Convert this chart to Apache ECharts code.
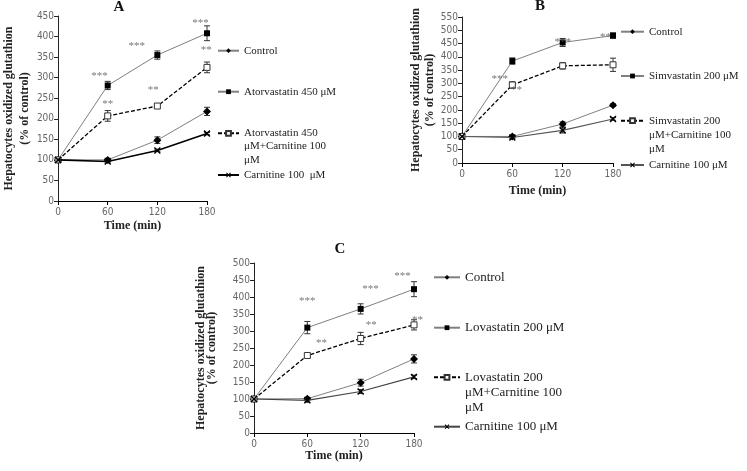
<!DOCTYPE html>
<html><head><meta charset="utf-8">
<script src="https://cdn.jsdelivr.net/npm/echarts@6/dist/echarts.min.js"></script>
<style>html,body{margin:0;padding:0;background:#fff}#c{width:747px;height:471px}</style>
</head><body><div id="c"></div>
<script>
// ---------- data ----------
const times = [0, 60, 120, 180];
const panelTitles = ['A', 'B', 'C'];
const yMaxes = [450, 550, 500];
const xTitle = 'Time (min)';
const yTitle = 'Hepatocytes oxidized glutathion\n(% of control)';

// Panel A
const A_names = ['Control', 'Atorvastatin 450 μM', 'Atorvastatin 450\nμM+Carnitine 100\nμM', 'Carnitine 100  μM'];
const A_control = [100, 100, 148, 218];
const A_statin = [100, 281, 355, 408];
const A_combo = [100, 207, 231, 325];
const A_carn = [100, 96, 123, 164];
const A_controlErr = [2, 4, 8, 10];
const A_statinErr = [3, 10, 10, 18];
const A_comboErr = [3, 13, 5, 13];
const A_carnErr = [2, 3, 3, 3];
const A_stars = [['***', 50, 311], ['***', 95, 384], ['***', 172, 440], ['**', 60, 244], ['**', 115, 277], ['**', 179, 374]];

// Panel B
const B_names = ['Control', 'Simvastatin 200 μM', 'Simvastatin 200\nμM+Carnitine 100\nμM', 'Carnitine 100 μM'];
const B_control = [100, 100, 147, 218];
const B_statin = [100, 384, 454, 480];
const B_combo = [100, 294, 366, 370];
const B_carn = [100, 96, 123, 166];
const B_controlErr = [2, 4, 8, 5];
const B_statinErr = [3, 12, 15, 10];
const B_comboErr = [3, 12, 12, 25];
const B_carnErr = [2, 4, 10, 5];
const B_stars = [['***', 45, 328], ['**', 65, 285], ['***', 120, 467], ['**', 171, 487]];

// Panel C
const C_names = ['Control', 'Lovastatin 200 μM', 'Lovastatin 200\nμM+Carnitine 100\nμM', 'Carnitine 100 μM'];
const C_control = [100, 101, 148, 218];
const C_statin = [100, 310, 365, 423];
const C_combo = [100, 228, 278, 318];
const C_carn = [100, 96, 122, 165];
const C_controlErr = [2, 4, 10, 12];
const C_statinErr = [3, 18, 15, 22];
const C_comboErr = [3, 5, 18, 15];
const C_carnErr = [3, 5, 6, 5];
const C_stars = [['***', 60, 398], ['***', 131, 431], ['***', 167, 469], ['**', 76, 272], ['**', 132, 326], ['**', 184, 341]];

// ---------- layout / style ----------
const panels = [
  {names: A_names, vals: [A_control, A_statin, A_combo, A_carn], errs: [A_controlErr, A_statinErr, A_comboErr, A_carnErr], stars: A_stars,
   grid: {left: 49, top: 16, width: 158, height: 185}, titlePos: [119, 0], yGap: 18, yLH: 16, xGap: 19,
   leg: {left: 217, iw: 21, fs: 11, centers: [50.7, 91.7, 133.3, 175], lh: 13.3}, carnColor: '#000', carnW: 1.6},
  {names: B_names, vals: [B_control, B_statin, B_combo, B_carn], errs: [B_controlErr, B_statinErr, B_comboErr, B_carnErr], stars: B_stars,
   grid: {left: 462, top: 17, width: 151, height: 146}, titlePos: [540, -1], yGap: 23, yLH: 14, xGap: 22,
   leg: {left: 620, iw: 23, fs: 11, centers: [31.7, 76, 120.7, 165], lh: 14.2}, carnColor: '#555', carnW: 1.1},
  {names: C_names, vals: [C_control, C_statin, C_combo, C_carn], errs: [C_controlErr, C_statinErr, C_comboErr, C_carnErr], stars: C_stars,
   grid: {left: 254, top: 263, width: 160, height: 170}, titlePos: [340, 242], yGap: 37, yLH: 11, xGap: 12,
   leg: {left: 433, iw: 26, fs: 13, centers: [277.3, 327.7, 377.3, 426.7], lh: 15}, carnColor: '#444', carnW: 1.2}
];

const XPATH = 'path://M0,1.5L1.5,0L5,3.5L8.5,0L10,1.5L6.5,5L10,8.5L8.5,10L5,6.5L1.5,10L0,8.5L3.5,5Z';
const tickFont = 'Liberation Sans Narrow, DejaVu Sans Condensed, Liberation Sans, sans-serif';
const serif = 'Liberation Serif, Times New Roman, serif';

function styleFor(k, p) {
  if (k === 0) return {symbol: 'diamond', symbolSize: 8, itemStyle: {color: '#000'}, lineStyle: {color: '#808080', width: 1}};
  if (k === 1) return {symbol: 'rect', symbolSize: 6, itemStyle: {color: '#000'}, lineStyle: {color: '#808080', width: 1}};
  if (k === 2) return {symbol: 'rect', symbolSize: 6, itemStyle: {color: '#fff', borderColor: '#333', borderWidth: 1}, lineStyle: {color: '#000', width: 1.3, type: [4, 2]}};
  return {symbol: XPATH, symbolSize: 7, itemStyle: {color: '#000'}, lineStyle: {color: p.carnColor, width: p.carnW}};
}

const grids = [], xAxes = [], yAxes = [], series = [], legends = [], titles = [];
panels.forEach((p, gi) => {
  grids.push(Object.assign({containLabel: false}, p.grid));
  titles.push({text: panelTitles[gi], left: p.titlePos[0], top: p.titlePos[1], textAlign: 'center', padding: 0,
    textStyle: {fontFamily: serif, fontSize: 15, fontWeight: 'bold', color: '#111'}});
  xAxes.push({gridIndex: gi, type: 'value', min: 0, max: 180, interval: 60,
    name: xTitle, nameLocation: 'middle', nameGap: p.xGap,
    nameTextStyle: {fontFamily: serif, fontSize: 12, fontWeight: 'bold', color: '#222'},
    axisLine: {lineStyle: {color: '#000', width: 1}}, axisTick: {show: true, length: 4, lineStyle: {color: '#000'}},
    axisLabel: {margin: 6, fontFamily: tickFont, fontSize: 10, color: '#666'}, splitLine: {show: false}});
  yAxes.push({gridIndex: gi, type: 'value', min: 0, max: yMaxes[gi], interval: 50,
    name: yTitle, nameLocation: 'middle', nameGap: p.yGap,
    nameTextStyle: {fontFamily: serif, fontSize: 12, fontWeight: 'bold', color: '#222', lineHeight: p.yLH},
    axisLine: {show: true, lineStyle: {color: '#222', width: 1}}, axisTick: {show: true, length: 4, lineStyle: {color: '#222'}},
    axisLabel: {margin: 4, fontFamily: tickFont, fontSize: 10, color: '#666'}, splitLine: {show: false}});

  // error bars
  const eb = [];
  p.vals.forEach((vals, k) => vals.forEach((v, i) => { eb.push([times[i], v - p.errs[k][i], v + p.errs[k][i]]); }));
  series.push({type: 'custom', xAxisIndex: gi, yAxisIndex: gi, silent: true, z: 1, data: eb,
    encode: {x: 0, y: [1, 2]},
    renderItem(params, api) {
      const x = api.value(0);
      const lo = api.coord([x, api.value(1)]);
      const hi = api.coord([x, api.value(2)]);
      const w = 3;
      const st = {stroke: '#333', lineWidth: 1};
      return {type: 'group', children: [
        {type: 'line', shape: {x1: lo[0], y1: lo[1], x2: hi[0], y2: hi[1]}, style: st},
        {type: 'line', shape: {x1: lo[0] - w, y1: lo[1], x2: lo[0] + w, y2: lo[1]}, style: st},
        {type: 'line', shape: {x1: hi[0] - w, y1: hi[1], x2: hi[0] + w, y2: hi[1]}, style: st}
      ]};
    }});

  // lines
  const order = [3, 0, 2, 1];
  order.forEach(k => {
    const sid = panelTitles[gi] + '_' + k;
    series.push(Object.assign({type: 'line', name: sid, xAxisIndex: gi, yAxisIndex: gi, z: 3 + k,
      data: times.map((t, i) => [t, p.vals[k][i]]), animation: false}, styleFor(k, p)));
  });

  // significance marks
  series.push({type: 'scatter', xAxisIndex: gi, yAxisIndex: gi, clip: false, silent: true, z: 10,
    symbolSize: 1, itemStyle: {color: 'rgba(0,0,0,0)'},
    data: p.stars.map(s => [s[1], s[2], s[0]]),
    label: {show: true, position: 'inside', offset: [0, 3], formatter: q => q.value[2],
      fontFamily: serif, fontSize: 11, color: '#555'}});

  // legends, one per item
  for (let k = 0; k < 4; k++) {
    const sid = panelTitles[gi] + '_' + k;
    const multi = p.names[k].indexOf('\n') >= 0;
    const lh = p.leg.lh;
    const top = multi ? p.leg.centers[k] - 2.5 * lh : p.leg.centers[k] - lh / 2;
    const label = multi ? '\n\n' + p.names[k] : p.names[k];
    legends.push({data: [sid], left: p.leg.left, top: top, padding: 0, itemWidth: p.leg.iw, itemHeight: 6,
      selectedMode: false, orient: 'vertical', align: 'left',
      formatter: () => label,
      textStyle: {fontFamily: serif, fontSize: p.leg.fs, color: '#222', lineHeight: lh}});
  }
});

const chart = echarts.init(document.getElementById('c'));
chart.setOption({
  animation: false,
  backgroundColor: '#fff',
  title: titles,
  grid: grids,
  xAxis: xAxes,
  yAxis: yAxes,
  legend: legends,
  series: series
});
</script>
</body></html>
